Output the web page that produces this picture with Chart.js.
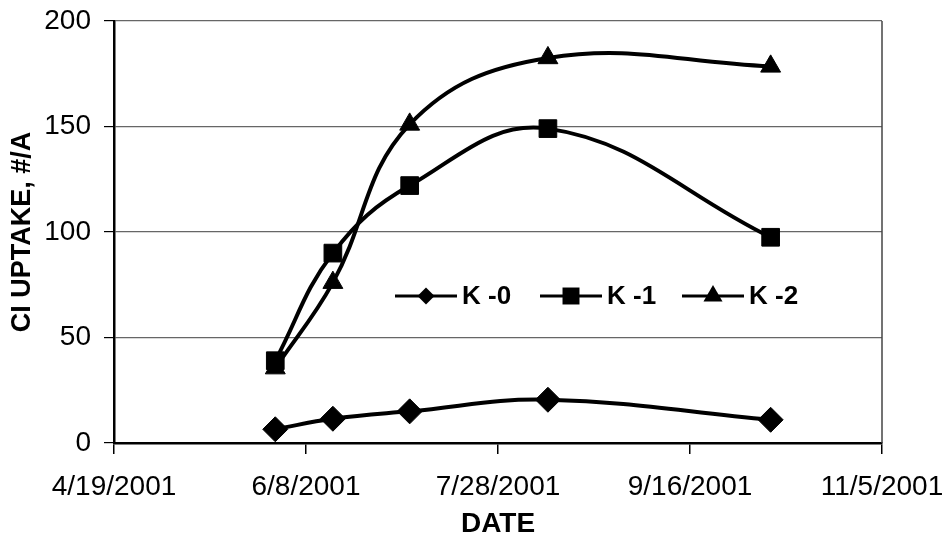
<!DOCTYPE html>
<html>
<head>
<meta charset="utf-8">
<script src="https://cdn.jsdelivr.net/npm/chart.js@4/dist/chart.umd.min.js"></script>
<style>
  html, body { margin: 0; padding: 0; background: #fff; }
  #wrap { width: 947px; height: 542px; position: relative; }
</style>
</head>
<body>
<div id="wrap"><canvas id="c" width="947" height="542"></canvas></div>
<script>
// ---- data ----
const sampleDates = ['2001-05-31', '2001-06-15', '2001-07-05', '2001-08-10', '2001-10-07'];
const seriesNames = ['K -0', 'K -1', 'K -2'];
const k0 = [6.5, 11.5, 15, 20.5, 11];
const k1 = [39, 90, 122, 149, 97.5];
const k2 = [35.5, 76, 151, 182.5, 178.5];
const xTickStart = '2001-04-19';
const xTickEnd = '2001-11-05';
const xTickStepDays = 50;
const yTicks = [0, 50, 100, 150, 200];

const DAY = 86400000;
function toDay(s) { const p = s.split('-').map(Number); return Date.UTC(p[0], p[1] - 1, p[2]) / DAY; }
function fmtDay(d) { const dt = new Date(Math.round(d) * DAY); return (dt.getUTCMonth() + 1) + '/' + dt.getUTCDate() + '/' + dt.getUTCFullYear(); }

const xs = sampleDates.map(toDay);
const pts = arr => arr.map((v, i) => ({ x: xs[i], y: v }));
const styles = ['rectRot', 'rect', 'triangle'];
const radii = [12.5, 12.5, 11.5];
const FONT = "'Liberation Sans', Arial, Helvetica, sans-serif";

const datasets = [k0, k1, k2].map((arr, i) => ({
  label: seriesNames[i],
  data: pts(arr),
  borderColor: '#000',
  backgroundColor: '#000',
  borderWidth: 4,
  tension: 0.4,
  pointStyle: styles[i],
  pointRadius: radii[i],
  pointBorderWidth: 1,
  pointHoverRadius: radii[i],
  fill: false
}));

function drawMarker(ctx, style, x, y, r) {
  ctx.beginPath();
  if (style === 'rectRot') {
    const s = Math.SQRT1_2 * r;
    ctx.moveTo(x - s, y); ctx.lineTo(x, y + s); ctx.lineTo(x + s, y); ctx.lineTo(x, y - s);
  } else if (style === 'rect') {
    const s = Math.SQRT1_2 * r;
    ctx.rect(x - s, y - s, 2 * s, 2 * s);
  } else {
    const a = Math.PI * 2 / 3;
    ctx.moveTo(x, y - r);
    ctx.lineTo(x + Math.sin(a) * r, y - Math.cos(a) * r);
    ctx.lineTo(x + Math.sin(2 * a) * r, y - Math.cos(2 * a) * r);
  }
  ctx.closePath();
  ctx.fill();
}

const extras = {
  id: 'extras',
  afterDraw(chart) {
    const ctx = chart.ctx;
    const a = chart.chartArea;
    ctx.save();
    // right border of plot area
    ctx.strokeStyle = '#444';
    ctx.lineWidth = 1.5;
    ctx.beginPath(); ctx.moveTo(a.right, a.top); ctx.lineTo(a.right, a.bottom); ctx.stroke();
    // legend inside the plot area
    const itemX = [395, 540, 682];
    const ly = 296;
    ctx.font = 'bold 26px ' + FONT;
    ctx.textBaseline = 'middle';
    ctx.textAlign = 'left';
    chart.data.datasets.forEach((ds, i) => {
      const x0 = itemX[i];
      ctx.strokeStyle = '#000';
      ctx.lineWidth = 3;
      ctx.beginPath(); ctx.moveTo(x0, ly); ctx.lineTo(x0 + 62, ly); ctx.stroke();
      ctx.fillStyle = '#000';
      drawMarker(ctx, ds.pointStyle, x0 + 31, ly, ds.pointStyle === 'triangle' ? 11 : 12);
      ctx.fillText(ds.label, x0 + 67, ly + 1);
    });
    ctx.restore();
  }
};

new Chart(document.getElementById('c'), {
  type: 'line',
  data: { datasets },
  options: {
    responsive: false,
    animation: false,
    layout: { padding: { left: 0, right: 65, top: 21, bottom: 0 } },
    plugins: { legend: { display: false }, tooltip: { enabled: false } },
    scales: {
      x: {
        type: 'linear',
        min: toDay(xTickStart),
        max: toDay(xTickEnd),
        afterFit(s) { s.height = 99; s.paddingLeft = 0; s.paddingRight = 0; },
        ticks: {
          stepSize: xTickStepDays,
          callback: v => fmtDay(v),
          color: '#000',
          font: { family: FONT, size: 28 },
          padding: 16,
          maxRotation: 0,
          autoSkip: false
        },
        grid: { drawOnChartArea: false, drawTicks: true, tickLength: 11, tickColor: '#000', lineWidth: 1.5 },
        border: { color: '#000', width: 2.5 },
        title: {
          display: true, text: 'DATE', color: '#000',
          font: { family: FONT, size: 28, weight: 'bold' },
          padding: { top: 0, bottom: 1 }
        }
      },
      y: {
        min: 0, max: 200,
        afterFit(s) { s.width = 114; s.paddingTop = 0; s.paddingBottom = 0; },
        afterBuildTicks(s) { s.ticks = yTicks.map(v => ({ value: v })); },
        ticks: {
          color: '#000',
          font: { family: FONT, size: 28 },
          padding: 13
        },
        grid: { color: '#666', lineWidth: 1.2, tickLength: 10, tickColor: '#000' },
        border: { color: '#000', width: 2.5 },
        title: {
          display: true, text: 'CI UPTAKE, #/A', color: '#000',
          font: { family: FONT, size: 27, weight: 'bold' },
          padding: { top: 6, bottom: 0 }
        }
      }
    }
  },
  plugins: [extras]
});
</script>
</body>
</html>
